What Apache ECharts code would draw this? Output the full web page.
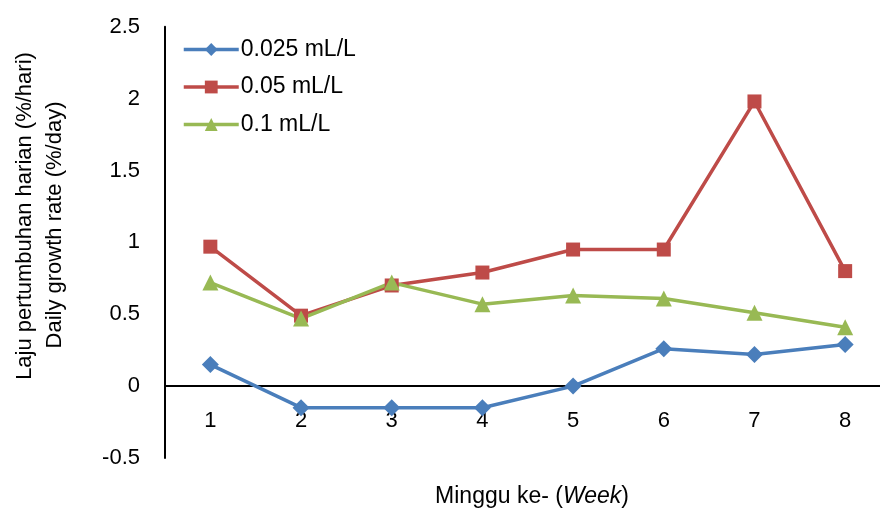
<!DOCTYPE html>
<html>
<head>
<meta charset="utf-8">
<script src="https://cdn.jsdelivr.net/npm/echarts@6/dist/echarts.min.js"></script>
<style>
html,body{margin:0;padding:0;background:#fff;}
#chart{width:880px;height:511px;}
</style>
</head>
<body>
<div id="chart"></div>
<script>
var categories = ['1','2','3','4','5','6','7','8'];
var seriesNames = ['0.025 mL/L','0.05 mL/L','0.1 mL/L'];
var dose0025 = [0.15, -0.15, -0.15, -0.15, 0.00, 0.26, 0.22, 0.29];
var dose005  = [0.97, 0.49, 0.70, 0.79, 0.95, 0.95, 1.98, 0.80];
var dose01   = [0.72, 0.47, 0.72, 0.57, 0.63, 0.61, 0.51, 0.41];
var yTicks = {min:-0.5, max:2.5, interval:0.5};
var yTitle1 = 'Laju pertumbuhan harian (%/hari)';
var yTitle2 = 'Daily growth rate (%/day)';

var FONT = '"Liberation Sans", Arial, sans-serif';
var FS = 22;
var colors = ['#4A7EBB', '#BE4B48', '#98B954'];

var chart = echarts.init(document.getElementById('chart'), null, {renderer:'canvas'});

function mk(name, data, symbol, size, color){
  return {
    name: name, type:'line', data: data,
    symbol: symbol, symbolSize: size, showSymbol: true,
    lineStyle:{color: color, width: 3.5},
    itemStyle:{color: color},
    emphasis:{disabled:true},
    animation:false
  };
}

chart.setOption({
  backgroundColor:'#ffffff',
  animation:false,
  textStyle:{fontFamily: FONT},
  grid:{left:165, right:-10.5, top:26.7, bottom:53, containLabel:false, outerBoundsMode:'none'},
  legend:{
    orient:'vertical', left:182, top:38, padding:0,
    itemWidth:55, itemHeight:16, itemGap:14.5,
    lineStyle:{width:3.5},
    textStyle:{fontFamily:FONT, fontSize:23, color:'#000', padding:[0,0,0,-3]},
    data: seriesNames
  },
  xAxis:{
    type:'category', data: categories, boundaryGap:true,
    axisLine:{onZero:true, lineStyle:{color:'#000', width:2}},
    axisTick:{show:false},
    axisLabel:{fontFamily:FONT, fontSize:FS, color:'#000', margin:-48},
    splitLine:{show:false}
  },
  yAxis:{
    type:'value', min:yTicks.min, max:yTicks.max, interval:yTicks.interval,
    axisLine:{show:true, lineStyle:{color:'#000', width:2}},
    axisTick:{show:false},
    axisLabel:{fontFamily:FONT, fontSize:FS, color:'#000', margin:25,
      formatter:function(v){ return String(Math.round(v*10)/10); }},
    splitLine:{show:false}
  },
  graphic:[
    {type:'text', x:25, y:216, rotation:Math.PI/2,
     style:{text:yTitle1, fontFamily:FONT, fontSize:FS, fill:'#000', textAlign:'center', textVerticalAlign:'middle'}},
    {type:'text', x:55, y:225, rotation:Math.PI/2,
     style:{text:yTitle2, fontFamily:FONT, fontSize:FS, fill:'#000', textAlign:'center', textVerticalAlign:'middle'}},
    {type:'text', x:532, y:497,
     style:{text:'{a|Minggu ke- (}{b|Week}{a|)}', textAlign:'center', textVerticalAlign:'middle',
       rich:{a:{fontFamily:FONT, fontSize:23, fill:'#000', color:'#000'}, b:{fontFamily:FONT, fontSize:23, fontStyle:'italic', fill:'#000', color:'#000'}}}}
  ],
  series:[
    mk(seriesNames[0], dose0025, 'diamond', 17, colors[0]),
    mk(seriesNames[1], dose005, 'rect', 14, colors[1]),
    mk(seriesNames[2], dose01, 'triangle', 16, colors[2])
  ]
});
</script>
</body>
</html>
